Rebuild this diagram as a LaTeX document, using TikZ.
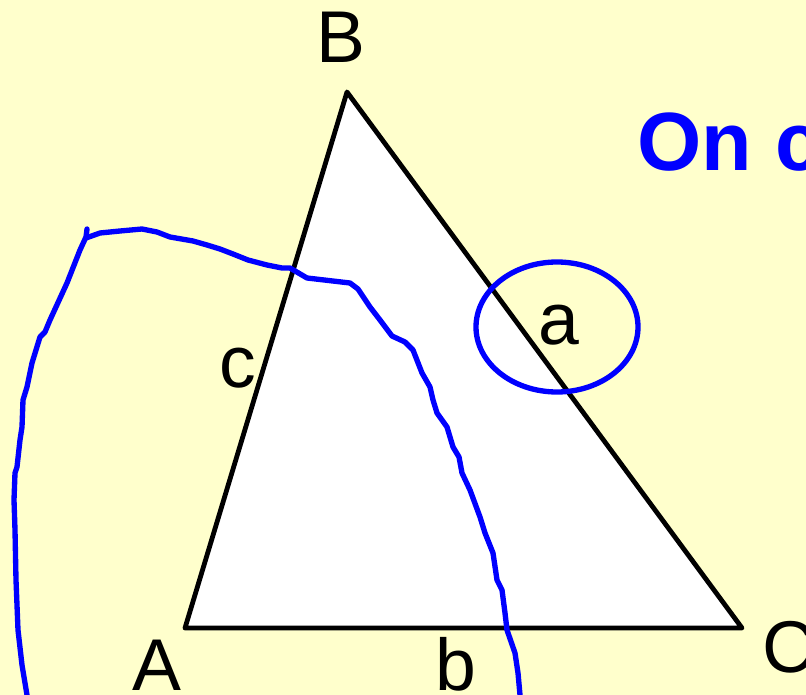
\documentclass[tikz,border=0pt]{standalone}
\usepackage{fontspec}
\setmainfont{Liberation Sans}
\usepackage{tikz}
\usetikzlibrary{positioning,calc}

\definecolor{paper}{HTML}{FFFFCC}
\definecolor{pen}{HTML}{0000FF}

\begin{document}
\begin{tikzpicture}[x=0.75pt, y=-0.75pt]
    % Define styles
    \tikzstyle{letter} = [inner sep=0pt, font=\fontsize{55}{60}\selectfont]
    \tikzstyle{side} = [line width=3.6pt, line join=round, line cap=round]
    \tikzstyle{ink} = [draw=pen, line width=4pt, line join=round, line cap=round]

    % Background
    \fill[paper] (0,0) rectangle (806,695);
    \useasboundingbox (0,0) rectangle (806,695);
    \clip (0,0) rectangle (806,695);

    % Vertices
    \coordinate (A) at (185,628);
    \coordinate (B) at (347,92);
    \coordinate (C) at (742,628);

    % Triangle
    \filldraw[side, fill=white] (A) -- (B) -- (C) -- cycle;

    % Labels
    \node[letter, anchor=base] (labB) at (341,63) {B};
    \node[letter, anchor=base] (labA) at (157,690) {A};
    \node[letter, anchor=base west] (labC) at (762,672) {C};
    \node[letter, anchor=base] (labc) at (238,387) {c};
    \node[letter, anchor=base] (laba) at (559,344) {a};
    \node[letter, anchor=base] (labb) at (456,690) {b};

    % Ring round side a
    \draw[ink] (557,327) ellipse [x radius=81, y radius=65];

    % Title
    \node[anchor=base west, inner sep=0pt, text=pen, font=\fontsize{62}{70}\selectfont\bfseries] (title) at (637,171) {On c};

    % Freehand line
    \draw[ink] (27,695) -- (22,665) -- (18,630) -- (16,580) -- (15,530) -- (14,500)
        -- (15,473) -- (17,467) -- (20,440) -- (22,427) -- (23,400) -- (27,387)
        -- (32,363) -- (40,337) -- (45,332) -- (50,320) -- (67,283) -- (80,250)
        -- (86,237) -- (87,229);
    \draw[ink] (86,238) -- (100,233) -- (120,231) -- (142,229) -- (157,232)
        -- (170,237) -- (193,241) -- (207,245) -- (220,249) -- (233,254)
        -- (248,260) -- (267,265) -- (282,268) -- (290,268) -- (307,278)
        -- (350,283) -- (358,289) -- (370,307) -- (380,320) -- (392,336)
        -- (405,342) -- (413,350) -- (422,373) -- (430,387) -- (433,400)
        -- (437,413) -- (447,427) -- (453,447) -- (459,457) -- (462,473)
        -- (470,490) -- (480,517) -- (485,533) -- (493,553) -- (497,580)
        -- (502,590) -- (505,613) -- (507,630) -- (515,653) -- (518,673)
        -- (520,695);
\end{tikzpicture}
\end{document}
